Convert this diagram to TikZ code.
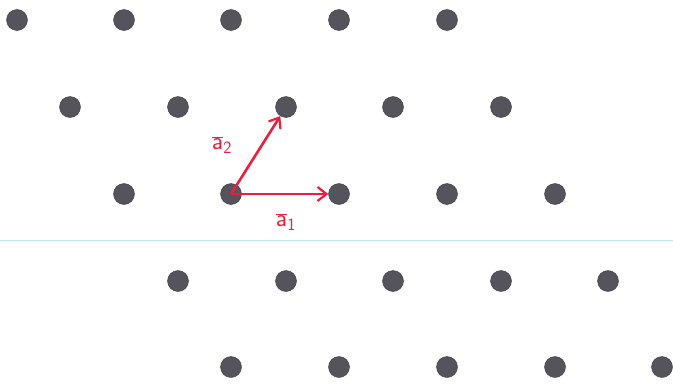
\documentclass[tikz,border=0pt]{standalone}
\usetikzlibrary{arrows.meta}
\definecolor{dotgray}{HTML}{55545C}
\definecolor{penred}{HTML}{E8203C}
\definecolor{lineblue}{HTML}{BFE6EE}
\begin{document}
\begin{tikzpicture}[x=1pt,y=-1pt,
  latticedot/.style={circle,fill=dotgray,draw=dotgray!70!black,line width=0.4pt,minimum size=21pt,inner sep=0pt},
  vecarrow/.style={draw=penred,line width=2.6pt,-{Straight Barb[length=9pt,width=14pt,line width=2.2pt]}},
  veclabel/.style={text=penred,font=\fontsize{26}{28}\selectfont,inner sep=0pt}]
\useasboundingbox[fill=white] (0,0) rectangle (673,386);
\draw[lineblue,line width=1pt] (0,240) -- (673,240);
% row 1
\foreach \x [count=\i] in {17,124,231,339,447} \node[latticedot] (d1\i) at (\x,20) {};
% row 2
\foreach \x [count=\i] in {70,178,286,393,501} \node[latticedot] (d2\i) at (\x,107) {};
% row 3
\foreach \x [count=\i] in {124,231,339,447,555} \node[latticedot] (d3\i) at (\x,194) {};
% row 4
\foreach \x [count=\i] in {178,286,393,501,608} \node[latticedot] (d4\i) at (\x,281) {};
% row 5
\foreach \x [count=\i] in {231,339,447,555,662} \node[latticedot] (d5\i) at (\x,367) {};
\draw[vecarrow] (d32.center) -- (d33);
\draw[vecarrow] (d32.center) -- (d23);
\node[veclabel] (la1) at (286,222) {$\overline{\mathsf{a}}_{\mathsf{1}}$};
\node[veclabel] (la2) at (222,145) {$\overline{\mathsf{a}}_{\mathsf{2}}$};
\end{tikzpicture}
\end{document}
